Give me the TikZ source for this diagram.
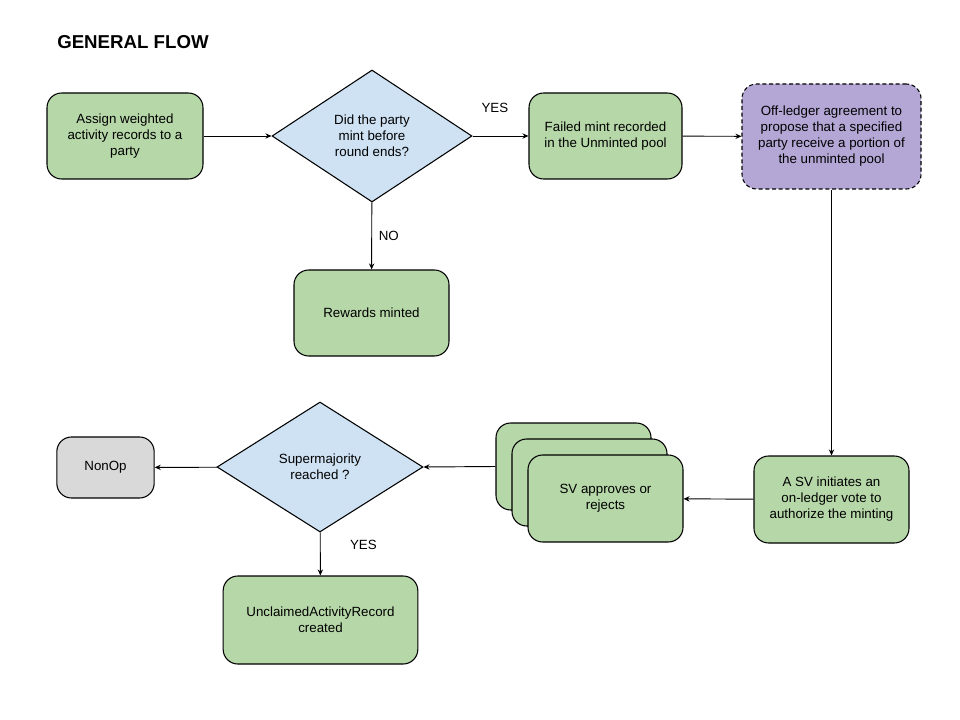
\documentclass[tikz,border=0pt]{standalone}
\usepackage{fontspec}
\setmainfont{Liberation Sans}
\usetikzlibrary{shapes.geometric,arrows.meta}
\definecolor{boxgreen}{HTML}{B6D7A8}
\definecolor{boxblue}{HTML}{CFE2F3}
\definecolor{boxpurple}{HTML}{B4A7D6}
\definecolor{boxgray}{HTML}{D9D9D9}
\tikzset{
  base/.style={draw=black, line width=0.8pt, align=center, inner sep=2pt,
    font=\fontsize{10}{12}\selectfont},
  gbox/.style={base, rectangle, rounded corners=11pt, fill=boxgreen},
  dbox/.style={base, diamond, fill=boxblue, inner sep=0pt},
  conn/.style={line width=0.7pt, -{Stealth[length=4.5pt,width=4pt]}},
  lbl/.style={font=\fontsize{10}{12}\selectfont, inner sep=0pt}
}
\begin{document}
\begin{tikzpicture}[x=0.75pt,y=-0.75pt]
\useasboundingbox (0,0) rectangle (960,720);
\node[anchor=west, font=\fontsize{14}{16}\selectfont\bfseries, inner sep=0pt] (title) at (57,42) {GENERAL FLOW};

\node[gbox, minimum width=117pt, minimum height=64.5pt] (assign) at (125,136) {Assign weighted\\activity records to a\\party};
\node[dbox, minimum width=150pt, minimum height=99pt] (q1) at (372,136) {Did the party\\mint before\\round ends?};
\node[gbox, minimum width=114.75pt, minimum height=64.5pt] (failed) at (605.5,136) {Failed mint recorded\\in the Unminted pool};
\node[base, rectangle, rounded corners=11pt, fill=boxpurple, dash pattern=on 3pt off 2pt, minimum width=134.25pt, minimum height=78.75pt] (offledger) at (831.5,136.5) {Off-ledger agreement to\\propose that a specified\\party receive a portion of\\the unminted pool};
\node[gbox, minimum width=116.25pt, minimum height=64.5pt] (rewards) at (371.5,313) {Rewards minted};

\node[gbox, minimum width=116.25pt, minimum height=65.25pt] (sv) at (831.5,499.5) {A SV initiates an\\on-ledger vote to\\authorize the minting};
\node[gbox, minimum width=116.25pt, minimum height=65.25pt] (back) at (573.5,466.5) {};
\node[gbox, minimum width=116.25pt, minimum height=65.25pt] (middle) at (589.5,482.5) {};
\node[gbox, minimum width=116.25pt, minimum height=65.25pt] (front) at (605.5,498.5) {SV approves or\\rejects};

\node[dbox, minimum width=154.5pt, minimum height=97.5pt] (q2) at (320,467) {Supermajority\\reached ?};
\node[base, rectangle, rounded corners=11pt, fill=boxgray, minimum width=73pt, minimum height=45.75pt] (nonop) at (105.5,467.5) {NonOp};
\node[gbox, minimum width=146pt, minimum height=66pt] (unclaimed) at (320.5,620) {UnclaimedActivityRecord\\created};

\draw[conn] (assign) -- (q1);
\draw[conn] (q1) -- (failed) node[lbl, pos=0.4, above=17pt] (yes1) {YES};
\draw[conn] (failed) -- (offledger);
\draw[conn] (q1) -- (rewards) node[lbl, midway, right=5pt] (no1) {NO};
\draw[conn] (offledger) -- (sv);
\draw[conn] (sv) -- (front);
\draw[conn] (back.west) -- (q2.east);
\draw[conn] (q2) -- (nonop);
\draw[conn] (q2) -- (unclaimed) node[lbl, pos=0.3, right=22pt] (yes2) {YES};
\end{tikzpicture}
\end{document}
